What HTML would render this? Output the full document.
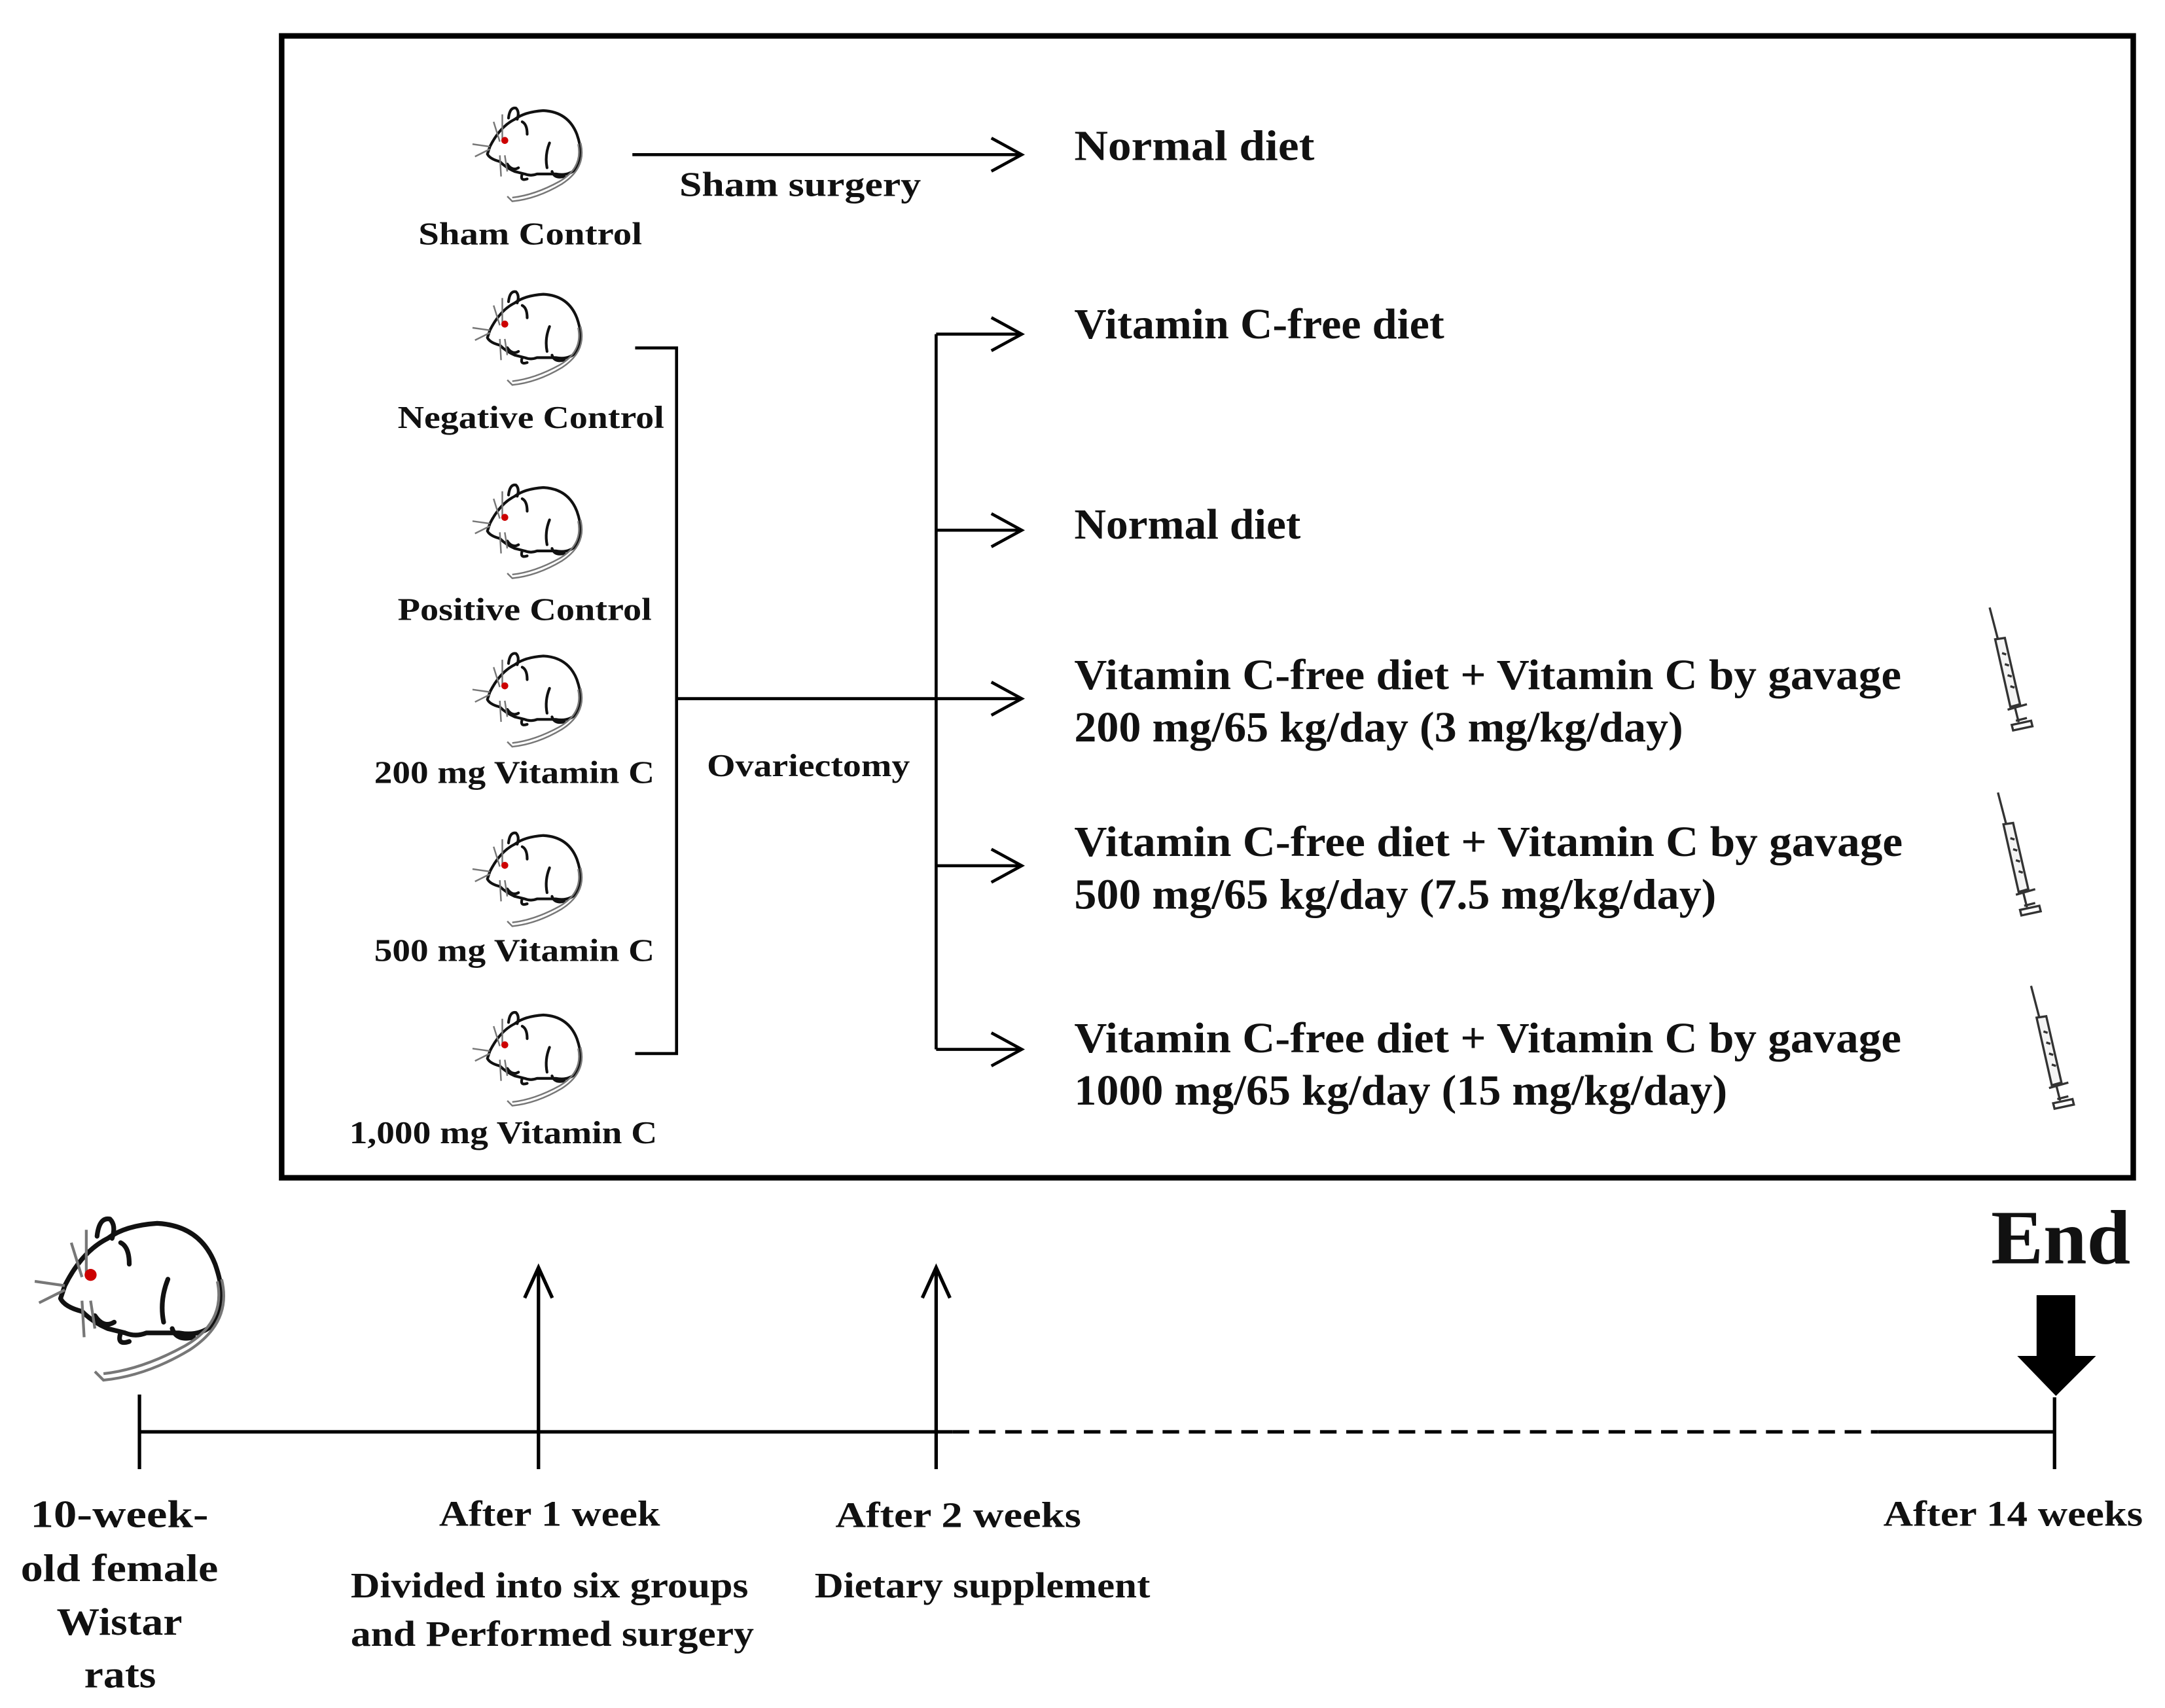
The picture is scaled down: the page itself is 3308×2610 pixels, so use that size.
<!DOCTYPE html>
<html><head><meta charset="utf-8"><style>
html,body{margin:0;padding:0;background:#fff;}
svg{display:block;}
text{font-family:"Liberation Serif",serif;font-weight:bold;fill:#111;}
</style></head><body>
<svg width="3308" height="2610" viewBox="0 0 1568 1237" preserveAspectRatio="none" xmlns="http://www.w3.org/2000/svg">
<defs>
<symbol id="rat" viewBox="0 0 100 90">
 <g fill="none" stroke="#111" stroke-width="2.2" stroke-linecap="round" stroke-linejoin="round">
  <path d="M22,38 Q30,22 42,16 Q50,10 65,9 Q85,10 92,28 Q98,45 92,55 Q86,62 75,60 L60,60 Q55,62 50,60 L42,58 Q35,55 30,50 Q22,48 20,44 Z" fill="#fff"/>
  <path d="M37,15 Q38,6 43,7 Q46,10 44,16"/>
  <path d="M48,18 Q52,20 52,28"/>
  <path d="M70,35 Q66,45 68,55"/>
  <path d="M36,52 Q40,58 45,55"/>
  <path d="M48,60 Q46,66 52,64"/>
  <path d="M72,58 Q74,64 82,62"/>
 </g>
 <g fill="none" stroke="#777" stroke-width="1.3">
  <path d="M95,35 Q100,55 80,68 Q60,80 40,82 L36,78"/>
  <path d="M93,36 Q97,55 78,66 Q58,77 40,79"/>
  <path d="M22,38 L8,36 M22,40 L10,46 M25,18 L30,34 M32,12 L32,32 M30,45 L31,62 M34,45 L36,58"/>
 </g>
 <circle cx="34" cy="33" r="2.8" fill="#c00"/>
</symbol>
<symbol id="syr" viewBox="0 0 40 100">
 <g fill="none" stroke="#333" stroke-width="1.6">
  <path d="M5,2 L11,25"/>
  <path d="M9,25 L16,24 L27,72 L20,74 Z" fill="#f4f4f4"/>
  <path d="M23,73 L26,85 M18,76 L32,72 M24,84 L32,82 M21,87 L35,84 L36,88 L22,91 Z"/>
  <path d="M14,35 L17,36 M16,43 L19,44 M18,51 L21,52 M20,59 L23,60"/>
 </g>
</symbol>
</defs>

<rect x="204" y="26" width="1341" height="827" fill="none" stroke="#000" stroke-width="4"/>

<use href="#rat" x="335" y="70" width="90" height="85"/>
<use href="#rat" x="335" y="203" width="90" height="85"/>
<use href="#rat" x="335" y="343" width="90" height="85"/>
<use href="#rat" x="335" y="465" width="90" height="85"/>
<use href="#rat" x="335" y="595" width="90" height="85"/>
<use href="#rat" x="335" y="725" width="90" height="85"/>

<g font-size="23" lengthAdjust="spacingAndGlyphs">
<text x="303" y="177" textLength="162" lengthAdjust="spacingAndGlyphs">Sham Control</text>
<text x="288" y="310" textLength="193" lengthAdjust="spacingAndGlyphs">Negative Control</text>
<text x="288" y="449" textLength="184" lengthAdjust="spacingAndGlyphs">Positive Control</text>
<text x="271" y="567" textLength="203" lengthAdjust="spacingAndGlyphs">200 mg Vitamin C</text>
<text x="271" y="696" textLength="203" lengthAdjust="spacingAndGlyphs">500 mg Vitamin C</text>
<text x="253" y="828" textLength="223" lengthAdjust="spacingAndGlyphs">1,000 mg Vitamin C</text>
</g>

<g stroke="#000" stroke-width="2.2" fill="none">
 <line x1="458" y1="112" x2="740" y2="112"/>
 <polyline points="718,100 740,112 718,124"/>
 <polyline points="460,252 490,252 490,763 460,763"/>
 <line x1="490" y1="506" x2="740" y2="506"/>
 <line x1="678" y1="242" x2="678" y2="760"/>
 <line x1="678" y1="242" x2="740" y2="242"/>
 <line x1="678" y1="384" x2="740" y2="384"/>
 <line x1="678" y1="627" x2="740" y2="627"/>
 <line x1="678" y1="760" x2="740" y2="760"/>
 <polyline points="718,230 740,242 718,254"/>
 <polyline points="718,372 740,384 718,396"/>
 <polyline points="718,494 740,506 718,518"/>
 <polyline points="718,615 740,627 718,639"/>
 <polyline points="718,748 740,760 718,772"/>
</g>

<text x="492" y="142" font-size="25" textLength="175" lengthAdjust="spacingAndGlyphs">Sham surgery</text>
<text x="512" y="562" font-size="23" textLength="147" lengthAdjust="spacingAndGlyphs">Ovariectomy</text>

<g font-size="31">
<text x="778" y="116" textLength="174" lengthAdjust="spacingAndGlyphs">Normal diet</text>
<text x="778" y="245" textLength="268" lengthAdjust="spacingAndGlyphs">Vitamin C-free diet</text>
<text x="778" y="390" textLength="164" lengthAdjust="spacingAndGlyphs">Normal diet</text>
<text x="778" y="499" textLength="599" lengthAdjust="spacingAndGlyphs">Vitamin C-free diet + Vitamin C by gavage</text>
<text x="778" y="537" textLength="441" lengthAdjust="spacingAndGlyphs">200 mg/65 kg/day (3 mg/kg/day)</text>
<text x="778" y="620" textLength="600" lengthAdjust="spacingAndGlyphs">Vitamin C-free diet + Vitamin C by gavage</text>
<text x="778" y="658" textLength="465" lengthAdjust="spacingAndGlyphs">500 mg/65 kg/day (7.5 mg/kg/day)</text>
<text x="778" y="762" textLength="599" lengthAdjust="spacingAndGlyphs">Vitamin C-free diet + Vitamin C by gavage</text>
<text x="778" y="800" textLength="473" lengthAdjust="spacingAndGlyphs">1000 mg/65 kg/day (15 mg/kg/day)</text>
</g>

<use href="#syr" x="1436" y="438" width="40" height="100"/>
<use href="#syr" x="1442" y="572" width="40" height="100"/>
<use href="#syr" x="1466" y="712" width="40" height="100"/>

<use href="#rat" x="8" y="872" width="165" height="140"/>
<g stroke="#000" stroke-width="2.5" fill="none">
 <line x1="101" y1="1037" x2="690" y2="1037"/>
 <line x1="690" y1="1037" x2="1360" y2="1037" stroke-dasharray="12,7"/>
 <line x1="1360" y1="1037" x2="1488" y2="1037"/>
 <line x1="101" y1="1010" x2="101" y2="1064"/>
 <line x1="390" y1="918" x2="390" y2="1064"/>
 <line x1="678" y1="918" x2="678" y2="1064"/>
 <line x1="1488" y1="1012" x2="1488" y2="1064"/>
 <polyline points="380,940 390,918 400,940"/>
 <polyline points="668,940 678,918 688,940"/>
</g>
<polygon points="1475,938 1503,938 1503,982 1518,982 1489,1011 1461,982 1475,982" fill="#000"/>
<text x="1442" y="915" font-size="56" textLength="101" lengthAdjust="spacingAndGlyphs">End</text>

<g font-size="28">
<text x="22" y="1106" textLength="129" lengthAdjust="spacingAndGlyphs">10-week-</text>
<text x="15" y="1145" textLength="143" lengthAdjust="spacingAndGlyphs">old female</text>
<text x="41" y="1184" textLength="91" lengthAdjust="spacingAndGlyphs">Wistar</text>
<text x="61" y="1222" textLength="52" lengthAdjust="spacingAndGlyphs">rats</text>
</g>
<g font-size="26">
<text x="318" y="1105" textLength="160" lengthAdjust="spacingAndGlyphs">After 1 week</text>
<text x="254" y="1157" textLength="288" lengthAdjust="spacingAndGlyphs">Divided into six groups</text>
<text x="254" y="1192" textLength="292" lengthAdjust="spacingAndGlyphs">and Performed surgery</text>
<text x="605" y="1106" textLength="178" lengthAdjust="spacingAndGlyphs">After 2 weeks</text>
<text x="590" y="1157" textLength="243" lengthAdjust="spacingAndGlyphs">Dietary supplement</text>
<text x="1364" y="1105" textLength="188" lengthAdjust="spacingAndGlyphs">After 14 weeks</text>
</g>
</svg>
</body></html>
